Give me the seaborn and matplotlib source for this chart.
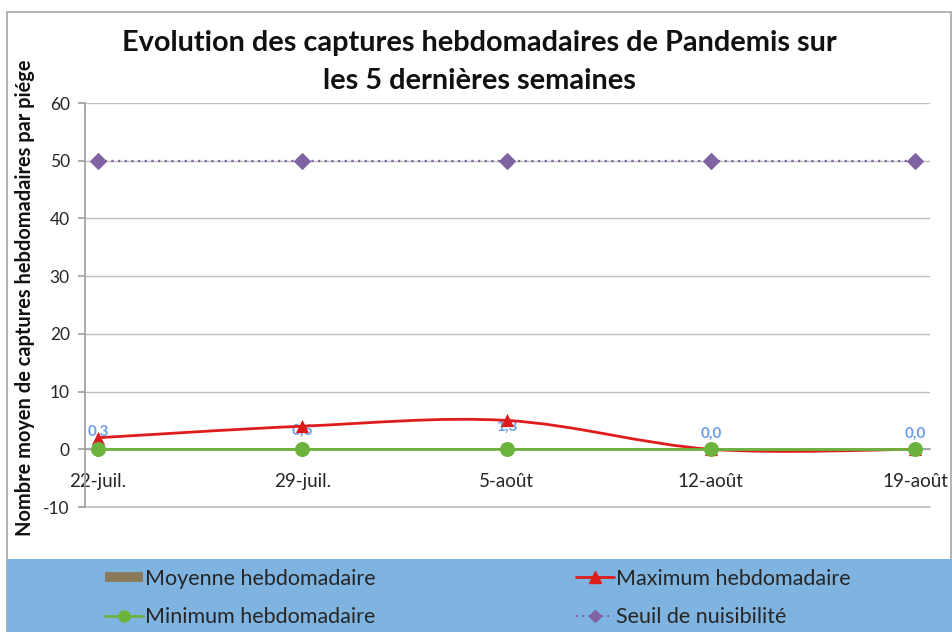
import numpy as np
import pandas as pd
import matplotlib
matplotlib.use("Agg")
import matplotlib.pyplot as plt
import seaborn as sns
from matplotlib.path import Path
from matplotlib.patches import PathPatch, Rectangle
from matplotlib.lines import Line2D

# ---- data ----
dates = ["22-juil.", "29-juil.", "5-août", "12-août", "19-août"]
moyenne = [0.3, 0.6, 1.3, 0.0, 0.0]
maximum = [2.0, 4.0, 5.0, 0.0, 0.0]
minimum = [0.0, 0.0, 0.0, 0.0, 0.0]
seuil = [50, 50, 50, 50, 50]
yticks = [-10, 0, 10, 20, 30, 40, 50, 60]

title = "Evolution des captures hebdomadaires de Pandemis sur\nles 5 dernières semaines"
ylabel = "Nombre moyen de captures hebdomadaires par piége"
legend_labels = ["Moyenne hebdomadaire", "Minimum hebdomadaire",
                 "Maximum hebdomadaire", "Seuil de nuisibilité"]

sns.set_theme(style="white")
plt.rcParams["font.family"] = ["Lato", "DejaVu Sans"]

C_BAR = "#8b7a5a"
C_RED = "#e01b1b"
C_GREEN = "#6cb33e"
C_PURPLE = "#8064a2"
C_LABEL = "#6d9eeb"
C_BAND = "#7fb3e0"
C_GRID = "#bfbfbf"

W, H = 953, 632
fig = plt.figure(figsize=(W / 100, H / 100), dpi=100)
fig.patch.set_facecolor("white")

# chart border and legend band
fig.patches.append(Rectangle((7 / W, 0), (W - 9) / W, 1 - 12 / H, transform=fig.transFigure,
                             facecolor="white", edgecolor="#a6a6a6", lw=1.2, zorder=-2))
fig.patches.append(Rectangle((7 / W, 0), (W - 7) / W, (H - 559) / H, transform=fig.transFigure,
                             facecolor=C_BAND, edgecolor="none", zorder=-1))

ax = fig.add_axes([85 / W, 1 - 507 / H, (930 - 85) / W, (507 - 103) / H])
ax.set_zorder(1)
ax.set_facecolor("none")

df = pd.DataFrame({"date": dates, "pos": np.arange(len(dates)), "moy": moyenne,
                   "max": maximum, "min": minimum, "seuil": seuil})

sns.barplot(data=df, x="date", y="moy", color=C_BAR, width=0.04, saturation=1,
            ax=ax, zorder=2)

# smoothed maximum line (Excel-like Bezier smoothing through the points)
pts = np.column_stack([df["pos"], df["max"]]).astype(float)
ext = np.vstack([pts[0], pts, pts[-1]])
verts = [pts[0]]
codes = [Path.MOVETO]
for i in range(len(pts) - 1):
    p0, p1, p2, p3 = ext[i], ext[i + 1], ext[i + 2], ext[i + 3]
    verts += [p1 + (p2 - p0) / 6, p2 - (p3 - p1) / 6, p2]
    codes += [Path.CURVE4] * 3
ax.add_patch(PathPatch(Path(verts, codes), facecolor="none", edgecolor=C_RED, lw=2, zorder=3.4))
sns.scatterplot(data=df, x="pos", y="max", marker="^", s=90, color=C_RED, edgecolor=C_RED,
                linewidth=0, ax=ax, zorder=3.5, legend=False)

sns.lineplot(data=df, x="pos", y="min", color=C_GREEN, lw=2, marker="o", markersize=10,
             markeredgecolor=C_GREEN, ax=ax, zorder=4, legend=False)
sns.lineplot(data=df, x="pos", y="seuil", color=C_PURPLE, lw=1.6, linestyle=(0, (1, 2)),
             marker="D", markersize=8, markeredgecolor=C_PURPLE, ax=ax, zorder=4, legend=False)

for i, v in enumerate(moyenne):
    ax.annotate(f"{v:.1f}".replace(".", ","), (i, v), xytext=(0, 11),
                textcoords="offset points", ha="center", va="center",
                color=C_LABEL, fontsize=11, fontweight="bold", zorder=2.5)

ax.set_xlim(-0.064, 4.073)
ax.set_ylim(-10, 60)
ax.set_yticks(yticks)
ax.set_yticklabels([str(t) for t in yticks])
ax.set_xticks(df["pos"])
ax.set_xticklabels(dates)
ax.set_xlabel("")
ax.set_ylabel("")
ax.grid(axis="y", color=C_GRID, lw=1)
ax.axhline(yticks[0], color=C_GRID, lw=1.2, clip_on=False, zorder=0.5)
ax.set_axisbelow(True)
for s in ["top", "right"]:
    ax.spines[s].set_visible(False)
ax.spines["left"].set_color("#a0a0a0")
ax.spines["bottom"].set_color("#a0a0a0")
ax.spines["bottom"].set_position(("data", 0))
ax.tick_params(axis="y", length=5, color="#a0a0a0", pad=6, left=True,
               labelsize=12.5, labelcolor="#262626")
ax.tick_params(axis="x", length=0, pad=17, labelsize=13.5, labelcolor="#262626")

fig.text(479 / W, 1 - 62 / H, title, ha="center", va="center", fontsize=20.8,
         fontweight="bold", linespacing=1.55, color="#111111")
fig.text(25 / W, 1 - 298 / H, ylabel, ha="center", va="center", rotation=90,
         fontsize=14.4, fontweight="bold", color="#111111")

handles = [Line2D([], [], color=C_BAR, lw=7, solid_capstyle="butt"),
           Line2D([], [], color=C_GREEN, lw=2, marker="o", markersize=8),
           Line2D([], [], color=C_RED, lw=2, marker="^", markersize=8),
           Line2D([], [], color=C_PURPLE, lw=1.5, linestyle=(0, (1, 2)), marker="D", markersize=6)]
fig.legend(handles, legend_labels, ncol=2, loc="center left",
           bbox_to_anchor=(105 / W, 1 - 598 / H), frameon=False, fontsize=15.5,
           handlelength=1.77, handletextpad=0.1, columnspacing=9.3, labelspacing=0.85,
           borderpad=0, borderaxespad=0)

fig.savefig("out.png", dpi=100)
